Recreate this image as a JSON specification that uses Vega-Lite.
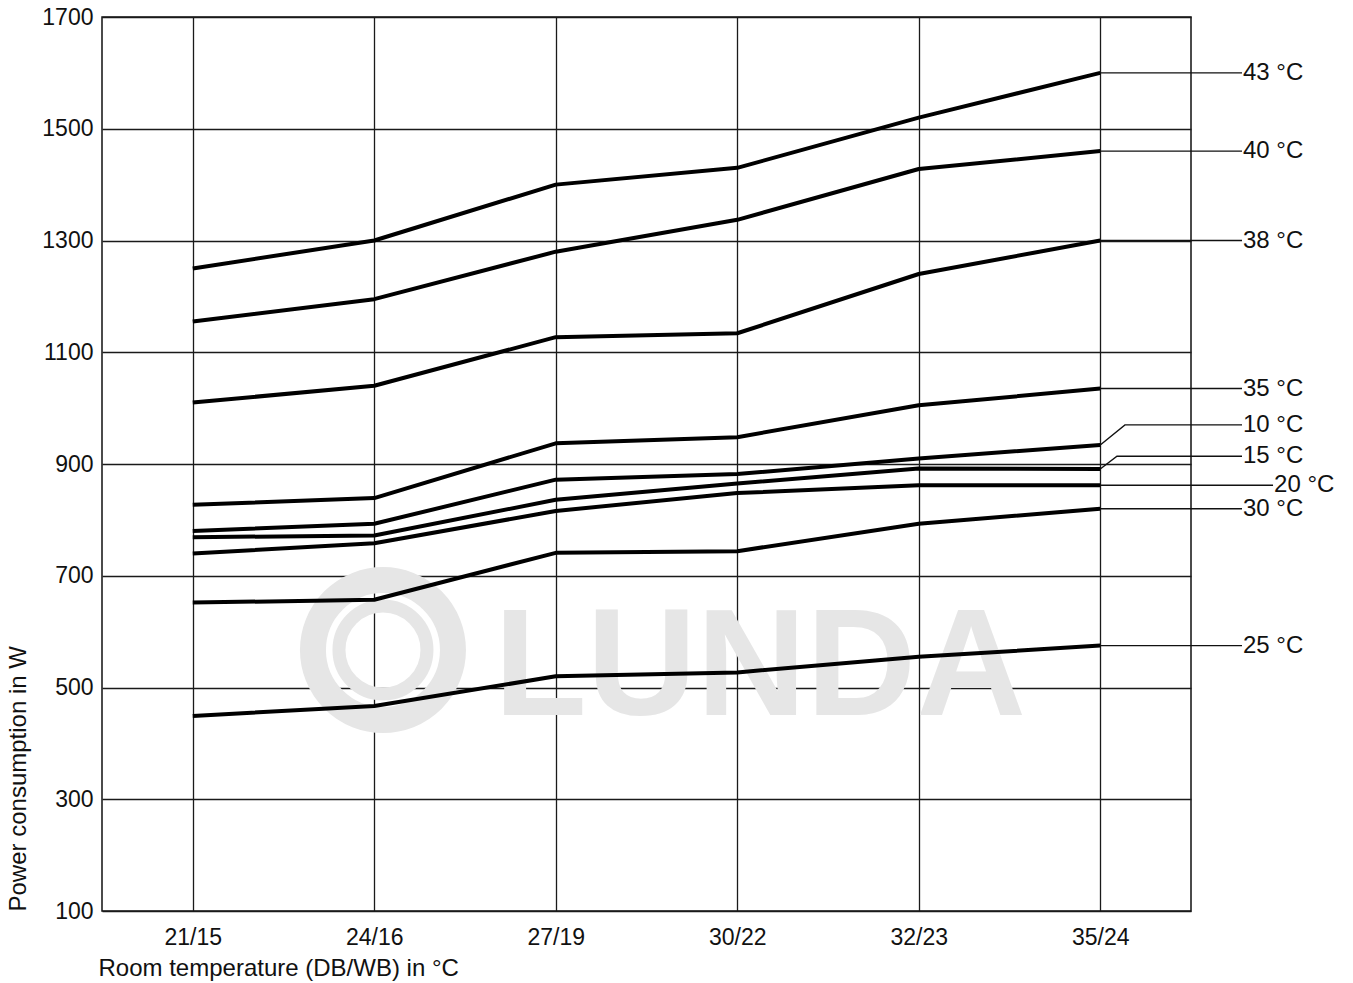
{
  "$schema": "https://vega.github.io/schema/vega-lite/v6.json",
  "width": 1089,
  "height": 894,
  "autosize": "none",
  "padding": {"left": 102, "top": 17, "right": 162, "bottom": 72},
  "background": "white",
  "config": {
    "font": "Liberation Sans",
    "view": {"stroke": "#111111", "strokeWidth": 1.5},
    "axis": {
      "grid": true, "gridColor": "#1a1a1a", "gridWidth": 1.3, "gridOpacity": 1,
      "domain": false, "ticks": false,
      "labelFont": "Liberation Sans", "labelFontSize": 23, "labelColor": "#111111",
      "titleFont": "Liberation Sans", "titleFontSize": 24, "titleFontWeight": "normal", "titleColor": "#111111",
      "zindex": 1
    }
  },
  "datasets": {
    "curves": [
      {"room": "21/15", "i": 0, "T": "43 °C", "W": 1250},
      {"room": "24/16", "i": 1, "T": "43 °C", "W": 1300},
      {"room": "27/19", "i": 2, "T": "43 °C", "W": 1400},
      {"room": "30/22", "i": 3, "T": "43 °C", "W": 1430},
      {"room": "32/23", "i": 4, "T": "43 °C", "W": 1520},
      {"room": "35/24", "i": 5, "T": "43 °C", "W": 1600},
      {"room": "21/15", "i": 0, "T": "40 °C", "W": 1155},
      {"room": "24/16", "i": 1, "T": "40 °C", "W": 1195},
      {"room": "27/19", "i": 2, "T": "40 °C", "W": 1280},
      {"room": "30/22", "i": 3, "T": "40 °C", "W": 1337},
      {"room": "32/23", "i": 4, "T": "40 °C", "W": 1428},
      {"room": "35/24", "i": 5, "T": "40 °C", "W": 1460},
      {"room": "21/15", "i": 0, "T": "38 °C", "W": 1010},
      {"room": "24/16", "i": 1, "T": "38 °C", "W": 1040},
      {"room": "27/19", "i": 2, "T": "38 °C", "W": 1127},
      {"room": "30/22", "i": 3, "T": "38 °C", "W": 1134},
      {"room": "32/23", "i": 4, "T": "38 °C", "W": 1240},
      {"room": "35/24", "i": 5, "T": "38 °C", "W": 1300},
      {"room": "21/15", "i": 0, "T": "35 °C", "W": 827},
      {"room": "24/16", "i": 1, "T": "35 °C", "W": 839},
      {"room": "27/19", "i": 2, "T": "35 °C", "W": 937},
      {"room": "30/22", "i": 3, "T": "35 °C", "W": 948},
      {"room": "32/23", "i": 4, "T": "35 °C", "W": 1005},
      {"room": "35/24", "i": 5, "T": "35 °C", "W": 1035},
      {"room": "21/15", "i": 0, "T": "10 °C", "W": 780},
      {"room": "24/16", "i": 1, "T": "10 °C", "W": 793},
      {"room": "27/19", "i": 2, "T": "10 °C", "W": 872},
      {"room": "30/22", "i": 3, "T": "10 °C", "W": 882},
      {"room": "32/23", "i": 4, "T": "10 °C", "W": 910},
      {"room": "35/24", "i": 5, "T": "10 °C", "W": 934},
      {"room": "21/15", "i": 0, "T": "15 °C", "W": 769},
      {"room": "24/16", "i": 1, "T": "15 °C", "W": 772},
      {"room": "27/19", "i": 2, "T": "15 °C", "W": 836},
      {"room": "30/22", "i": 3, "T": "15 °C", "W": 865},
      {"room": "32/23", "i": 4, "T": "15 °C", "W": 892},
      {"room": "35/24", "i": 5, "T": "15 °C", "W": 891},
      {"room": "21/15", "i": 0, "T": "20 °C", "W": 740},
      {"room": "24/16", "i": 1, "T": "20 °C", "W": 758},
      {"room": "27/19", "i": 2, "T": "20 °C", "W": 816},
      {"room": "30/22", "i": 3, "T": "20 °C", "W": 848},
      {"room": "32/23", "i": 4, "T": "20 °C", "W": 862},
      {"room": "35/24", "i": 5, "T": "20 °C", "W": 862},
      {"room": "21/15", "i": 0, "T": "30 °C", "W": 652},
      {"room": "24/16", "i": 1, "T": "30 °C", "W": 657},
      {"room": "27/19", "i": 2, "T": "30 °C", "W": 741},
      {"room": "30/22", "i": 3, "T": "30 °C", "W": 744},
      {"room": "32/23", "i": 4, "T": "30 °C", "W": 793},
      {"room": "35/24", "i": 5, "T": "30 °C", "W": 820},
      {"room": "21/15", "i": 0, "T": "25 °C", "W": 449},
      {"room": "24/16", "i": 1, "T": "25 °C", "W": 467},
      {"room": "27/19", "i": 2, "T": "25 °C", "W": 520},
      {"room": "30/22", "i": 3, "T": "25 °C", "W": 527},
      {"room": "32/23", "i": 4, "T": "25 °C", "W": 555},
      {"room": "35/24", "i": 5, "T": "25 °C", "W": 575}
    ],
    "leaders": [
      {"T": "43 °C", "k": 0, "x": 5, "W": 1600},
      {"T": "43 °C", "k": 2, "x": 5.781, "W": 1600},
      {"T": "40 °C", "k": 0, "x": 5, "W": 1460},
      {"T": "40 °C", "k": 2, "x": 5.781, "W": 1460},
      {"T": "38 °C", "k": 0, "x": 5, "W": 1300},
      {"T": "38 °C", "k": 2, "x": 5.781, "W": 1300},
      {"T": "35 °C", "k": 0, "x": 5, "W": 1035},
      {"T": "35 °C", "k": 2, "x": 5.781, "W": 1035},
      {"T": "10 °C", "k": 0, "x": 5, "W": 934},
      {"T": "10 °C", "k": 1, "x": 5.136, "W": 970},
      {"T": "10 °C", "k": 2, "x": 5.781, "W": 970},
      {"T": "15 °C", "k": 0, "x": 5, "W": 891},
      {"T": "15 °C", "k": 1, "x": 5.092, "W": 914},
      {"T": "15 °C", "k": 2, "x": 5.781, "W": 914},
      {"T": "20 °C", "k": 0, "x": 5, "W": 862},
      {"T": "20 °C", "k": 2, "x": 5.952, "W": 862},
      {"T": "30 °C", "k": 0, "x": 5, "W": 820},
      {"T": "30 °C", "k": 2, "x": 5.781, "W": 820},
      {"T": "25 °C", "k": 0, "x": 5, "W": 575},
      {"T": "25 °C", "k": 2, "x": 5.781, "W": 575}
    ]
  },
  "encoding": {
    "x": {
      "type": "quantitative",
      "scale": {"domain": [-0.5, 5.5], "nice": false, "zero": false},
      "axis": {
        "values": [0, 1, 2, 3, 4, 5],
        "labelExpr": "['21/15','24/16','27/19','30/22','32/23','35/24'][datum.value]",
        "labelPadding": 15,
        "title": "Room temperature (DB/WB) in °C",
        "titleAnchor": "start", "titleAlign": "left", "titleBaseline": "alphabetic",
        "titleX": -4, "titleY": 64
      }
    },
    "y": {
      "type": "quantitative",
      "scale": {"domain": [100, 1700], "nice": false, "zero": false},
      "axis": {
        "values": [100, 300, 500, 700, 900, 1100, 1300, 1500, 1700],
        "format": "d",
        "labelPadding": 9,
        "title": "Power consumption in W",
        "titleAngle": -90, "titleAlign": "left", "titleBaseline": "middle",
        "titleX": -84, "titleY": 894
      }
    }
  },
  "layer": [
    {
      "data": {"values": [{"mark": "ring"}]},
      "mark": {"type": "point", "shape": "circle", "filled": false, "color": "#e6e6e6", "strokeWidth": 26, "size": 19600, "opacity": 1},
      "encoding": {"x": {"datum": 1.048}, "y": {"datum": 567}}
    },
    {
      "data": {"values": [{"mark": "ring"}]},
      "mark": {"type": "point", "shape": "circle", "filled": false, "color": "#e6e6e6", "strokeWidth": 13, "size": 7744, "opacity": 1},
      "encoding": {"x": {"datum": 1.048}, "y": {"datum": 567}}
    },
    {
      "data": {"values": [{"mark": "LUNDA"}]},
      "mark": {"type": "text", "font": "Liberation Sans", "fontWeight": "bold", "fontSize": 152, "color": "#e6e6e6", "align": "center", "baseline": "alphabetic"},
      "encoding": {"x": {"datum": 3.125}, "y": {"datum": 451}, "text": {"field": "mark"}}
    },
    {
      "data": {"name": "leaders"},
      "mark": {"type": "line", "color": "#111111", "strokeWidth": 1.4, "clip": false},
      "encoding": {
        "x": {"field": "x", "type": "quantitative"},
        "y": {"field": "W", "type": "quantitative"},
        "detail": {"field": "T"},
        "order": {"field": "k"}
      }
    },
    {
      "data": {"name": "curves"},
      "mark": {"type": "line", "color": "#000000", "strokeWidth": 4, "strokeJoin": "round"},
      "encoding": {
        "x": {"field": "i", "type": "quantitative"},
        "y": {"field": "W", "type": "quantitative"},
        "detail": {"field": "T"},
        "order": {"field": "i"}
      }
    },
    {
      "data": {"name": "leaders"},
      "transform": [{"filter": "datum.k == 2"}],
      "mark": {"type": "text", "align": "left", "baseline": "middle", "dx": 1, "fontSize": 24, "color": "#111111", "font": "Liberation Sans"},
      "encoding": {
        "x": {"field": "x", "type": "quantitative"},
        "y": {"field": "W", "type": "quantitative"},
        "text": {"field": "T"}
      }
    }
  ]
}
